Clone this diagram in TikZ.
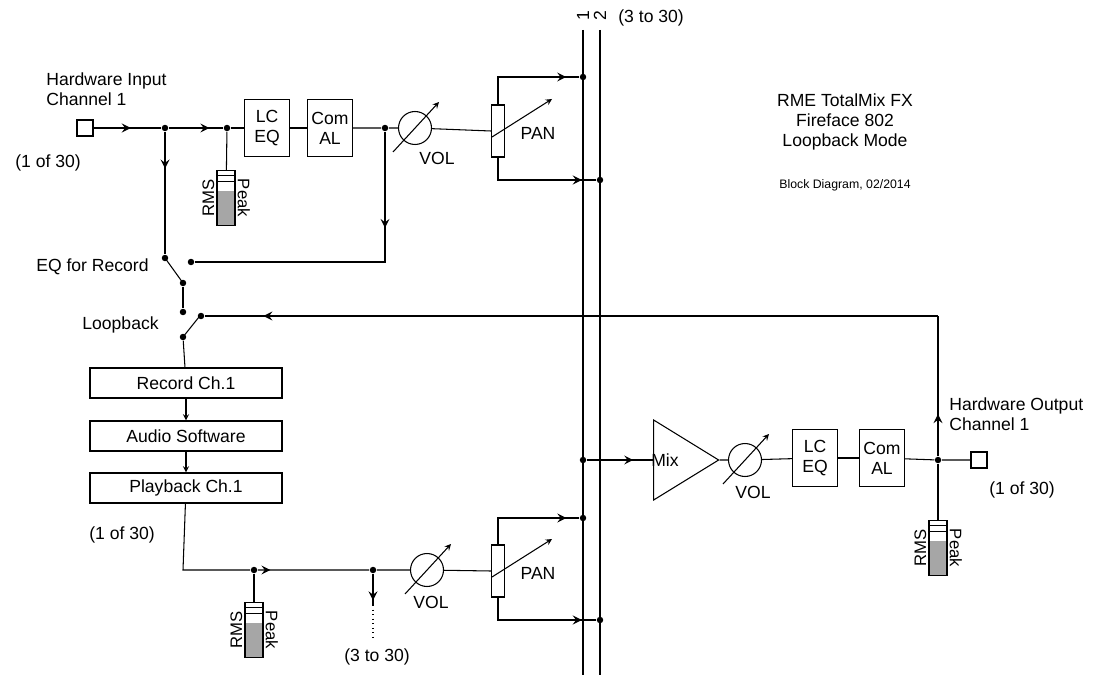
\documentclass[tikz,border=0pt]{standalone}
\usepackage{fontspec}
\setmainfont{Liberation Sans}
\usetikzlibrary{calc,shapes.geometric,decorations.markings}
\begin{document}
\begin{tikzpicture}[x=0.02cm,y=-0.02cm,font=\fontsize{10}{11.5}\selectfont,line width=0.6pt]

% definitions
\tikzstyle{block} = [rectangle, minimum width=0.9cm, minimum height=1.14cm, text centered, draw=black, align=center, inner sep=1pt]
\tikzstyle{chain} = [rectangle, minimum width=3.84cm, minimum height=0.6cm, text centered, draw=black]
\tikzstyle{port} = [rectangle, minimum width=0.32cm, minimum height=0.32cm, draw=black, inner sep=0pt]
\tikzstyle{vol} = [circle, minimum size=0.66cm, draw=black, inner sep=0pt]
\tikzstyle{pan} = [rectangle, minimum width=0.26cm, minimum height=1.04cm, draw=black, inner sep=0pt]
\tikzstyle{dot} = [circle, fill=black, inner sep=1.3pt]
\tikzstyle{meter} = [rectangle, minimum width=0.36cm, minimum height=1.1cm, draw=black, inner sep=0pt,
  path picture={\fill[gray!70] (path picture bounding box.south west) rectangle ([yshift=0.7cm]path picture bounding box.south east);
    \draw ([yshift=-0.1cm]path picture bounding box.north west) -- ([yshift=-0.1cm]path picture bounding box.north east);
    \draw ([yshift=-0.22cm]path picture bounding box.north west) -- ([yshift=-0.22cm]path picture bounding box.north east);}]
\tikzstyle{side} = [font=\fontsize{9.5}{11}\selectfont, inner sep=1pt]
\tikzstyle{arrow} = [->,>=stealth]
\tikzset{mid/.style={postaction={decorate}, decoration={markings, mark=at position #1 with {\arrow[scale=1.4]{stealth}}}}}

\newcommand{\volarrow}[1]{\draw[arrow] ($(#1)+(-22,24)$) -- ($(#1)+(24,-26)$);}
\newcommand{\panarrow}[1]{\draw[arrow] ($(#1)+(-6,6)$) -- ($(#1)+(54,-32)$);}
\newcommand{\meterlabels}[1]{\node[side, rotate=90, anchor=south] at (#1.west) {RMS};
  \node[side, rotate=-90, anchor=south] at (#1.east) {Peak};}

% bus
\coordinate (b1t) at (583,30); \coordinate (b1b) at (583,675);
\coordinate (b2t) at (600,30); \coordinate (b2b) at (600,675);
\draw (b1t) -- (b1b);
\draw (b2t) -- (b2b);
\node[rotate=90] (n1) at (583,16) {1};
\node[rotate=90] (n2) at (600,16) {2};
\node[anchor=west] (all1) at (612,18) {(3 to 30)};

% input channel
\node (in1) [port] at (85,128) {};
\node (d1) [dot] at (165,128) {};
\node (d2) [dot] at (227,128) {};
\node (lc1) [block] at (267,128) {LC\\EQ};
\node (com1) [block] at (330,128) {Com\\AL};
\node (d3) [dot] at (385,128) {};
\node (vol1) [vol] at (415,128) {};
\node (pan1) [pan] at (498,131) {};
\node (p1t) [dot] at (583,77) {};
\node (p1b) [dot] at (600,180) {};
\node (m1) [meter] at (226,198) {};
\meterlabels{m1}
\volarrow{vol1}
\panarrow{pan1}
\node at ($(vol1)+(22,30)$) {VOL};
\node at ($(pan1)+(40,2)$) {PAN};
\node[anchor=west, align=left] at (40,89) {Hardware Input\\Channel 1};
\node at (48,163) {(1 of 30)};

\draw[mid=0.55] (in1) -- (d1);
\draw[mid=0.6] (d1) -- (d2) -- (lc1);
\draw (lc1) -- (com1);
\draw (com1) -- (d3) -- (vol1) -- (pan1.west);
\draw (d2) -- (m1);
\draw[mid=0.88] (pan1.north) |- (p1t);
\draw[mid=0.88] (pan1.south) |- (p1b);

% switches
\node (s1a) [dot] at (165,258) {};
\node (s1b) [dot] at (191,262) {};
\node (s1c) [dot] at (183,283) {};
\node (s2a) [dot] at (183,312) {};
\node (s2b) [dot] at (201,316) {};
\node (s2c) [dot] at (183,337) {};
\coordinate (c1) at (385,262);
\coordinate (lb1) at (938,316);
\node[anchor=east] at (155,267) {EQ for Record};
\node[anchor=east] at (165,325) {Loopback};

\draw[mid=0.3] (d1) -- (s1a);
\draw[mid=0.3] (d3) -- (c1) -- (s1b);
\draw (s1a.center) -- (s1c.center);
\draw (s1c) -- (s2a);
\draw (s2c.center) -- (199,317);

% software chain
\node (rec) [chain] at (186,383) {Record Ch.1};
\node (sw) [chain] at (186,436) {Audio Software};
\node (play) [chain] at (186,488) {Playback Ch.1};
\draw (s2c) -- (rec);
\draw[arrow] (rec) -- (sw);
\draw[arrow] (sw) -- (play);

% playback channel
\coordinate (c2) at (183,570);
\node (d4) [dot] at (254,570) {};
\node (d5) [dot] at (373,570) {};
\node (vol2) [vol] at (427,570) {};
\node (pan2) [pan] at (498,571) {};
\node (p2t) [dot] at (583,518) {};
\node (p2b) [dot] at (600,620) {};
\node (m2) [meter] at (254,630) {};
\coordinate (c3) at (373,605);
\coordinate (c4) at (373,638);
\meterlabels{m2}
\volarrow{vol2}
\panarrow{pan2}
\node at ($(vol2)+(4,32)$) {VOL};
\node at ($(pan2)+(40,2)$) {PAN};
\node at (122,535) {(1 of 30)};
\node at (377,657) {(3 to 30)};

\draw[mid=0.45] (play) -- (c2) -- (d4) -- (d5) -- (vol2) -- (pan2.west);
\draw (d4) -- (m2);
\draw[mid=0.85] (d5) -- (c3);
\draw[dotted] (c3) -- (c4);
\draw[mid=0.88] (pan2.north) |- (p2t);
\draw[mid=0.88] (pan2.south) |- (p2b);

% output channel
\node (dm) [dot] at (583,460) {};
\node (mix) [isosceles triangle, isosceles triangle apex angle=66, isosceles triangle stretches, minimum width=1.6cm, minimum height=1.3cm, draw=black, inner sep=0pt] at (676,460) {};
\node at (665,460) {Mix};
\node (vol3) [vol] at (745,460) {};
\node (lc3) [block] at (815,458) {LC\\EQ};
\node (com3) [block] at (882,458) {Com\\AL};
\node (d7) [dot] at (938,460) {};
\node (out1) [port] at (979,460) {};
\node (m3) [meter] at (938,548) {};
\meterlabels{m3}
\volarrow{vol3}
\node at ($(vol3)+(8,32)$) {VOL};
\node[anchor=west, align=left] at (943,414) {Hardware Output\\Channel 1};
\node at (1022,490) {(1 of 30)};

\draw[mid=0.7] (dm) -- (mix);
\draw (mix) -- (vol3) -- (lc3);
\draw (lc3) -- (com3);
\draw (com3) -- (d7) -- (out1);
\draw (d7) -- (m3);
\draw[mid=0.3] (d7) -- (lb1);
\draw[mid=0.92] (lb1) -- (s2b);

% title
\node[align=center] at (845,122) {RME TotalMix FX\\Fireface 802\\Loopback Mode};
\node[font=\fontsize{7}{8}\selectfont] at (845,185) {Block Diagram, 02/2014};

\useasboundingbox (0,0) rectangle (1098,675);
\end{tikzpicture}
\end{document}
